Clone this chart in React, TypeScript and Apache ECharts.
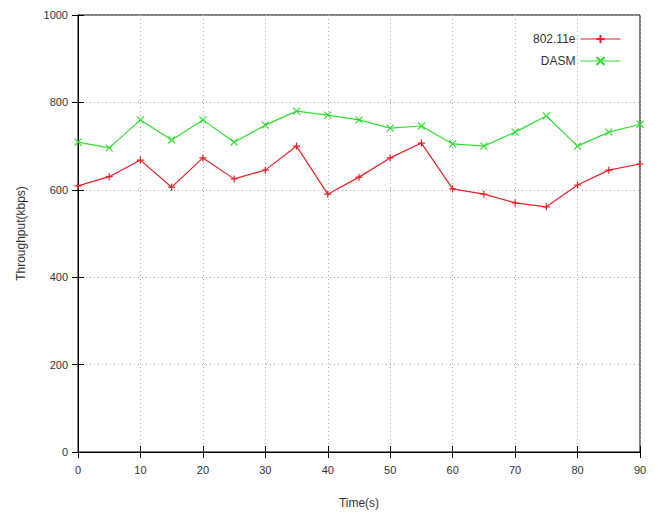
import React, { useEffect, useRef } from "react";
import * as echarts from "echarts";

const times = [0, 5, 10, 15, 20, 25, 30, 35, 40, 45, 50, 55, 60, 65, 70, 75, 80, 85, 90];
const ieee80211e = [609, 630, 668, 606, 673, 625, 645, 700, 590, 629, 673, 707, 602, 590, 570, 561, 611, 645, 659];
const dasm = [709, 696, 760, 714, 760, 709, 748, 780, 771, 760, 741, 746, 705, 700, 732, 769, 700, 732, 750];
const xTicks = [0, 10, 20, 30, 40, 50, 60, 70, 80, 90];
const yTicks = [0, 200, 400, 600, 800, 1000];

const PLUS = "path://M0,5L10,5M5,0L5,10";
const CROSS = "path://M0,0L10,10M10,0L0,10";

export default function App() {
  const ref = useRef<HTMLDivElement>(null);
  useEffect(() => {
    if (!ref.current) return;
    const chart = echarts.init(ref.current, null, { renderer: "svg" });
    const font = "'Liberation Sans', Arial, sans-serif";
    const labelColor = "#333";
    chart.setOption({
      animation: false,
      textStyle: { fontFamily: font },
      grid: { left: 70, right: 10, top: 7, bottom: 65, show: true, borderColor: "#000", borderWidth: 1, backgroundColor: "transparent", outerBoundsMode: "none", containLabel: false },
      legend: {
        orient: "vertical",
        right: 24,
        top: 20,
        align: "right",
        itemWidth: 40,
        itemHeight: 10,
        itemGap: 10,
        lineStyle: { width: 1 },
        textStyle: { fontSize: 12, color: labelColor, fontFamily: font },
        data: ["802.11e", "DASM"],
      },
      xAxis: [
        {
          type: "value",
          min: 0,
          max: 90,
          interval: 10,
          name: "Time(s)",
          nameLocation: "middle",
          nameGap: 45,
          nameTextStyle: { fontSize: 12, color: labelColor },
          axisLine: { show: true, lineStyle: { color: "#000" } },
          axisTick: { show: true, inside: true, length: 6, lineStyle: { color: "#000" } },
          axisLabel: { fontSize: 11, color: labelColor, margin: 12, formatter: (v: number) => (xTicks.includes(v) ? String(v) : "") },
          splitLine: { show: true, lineStyle: { color: "#aaa", type: [1, 3] } },
        },
        {
          type: "value",
          position: "top",
          min: 0,
          max: 90,
          interval: 10,
          axisLine: { show: true, lineStyle: { color: "#000" } },
          axisTick: { show: true, inside: true, length: 6, lineStyle: { color: "#000" } },
          axisLabel: { show: false },
          splitLine: { show: false },
        },
      ],
      yAxis: [
        {
          type: "value",
          min: 0,
          max: 1000,
          interval: 200,
          name: "Throughput(kbps)",
          nameLocation: "middle",
          nameGap: 51,
          nameTextStyle: { fontSize: 12, color: labelColor },
          axisLine: { show: true, lineStyle: { color: "#000" } },
          axisTick: { show: true, inside: true, length: 6, lineStyle: { color: "#000" } },
          axisLabel: { fontSize: 11, color: labelColor, margin: 10, formatter: (v: number) => (yTicks.includes(v) ? String(v) : "") },
          splitLine: { show: true, lineStyle: { color: "#aaa", type: [1, 3] } },
        },
        {
          type: "value",
          position: "right",
          min: 0,
          max: 1000,
          interval: 200,
          axisLine: { show: true, lineStyle: { color: "#000" } },
          axisTick: { show: true, inside: true, length: 6, lineStyle: { color: "#000" } },
          axisLabel: { show: false },
          splitLine: { show: false },
        },
      ],
      series: [
        {
          name: "802.11e",
          type: "line",
          data: times.map((t, i) => [t, ieee80211e[i]]),
          symbol: PLUS,
          symbolSize: 7,
          lineStyle: { color: "#e8202a", width: 1.2 },
          itemStyle: { color: "#e8202a", borderColor: "#e8202a", borderWidth: 1.2 },
        },
        {
          name: "DASM",
          type: "line",
          data: times.map((t, i) => [t, dasm[i]]),
          symbol: CROSS,
          symbolSize: 7,
          lineStyle: { color: "#33dd33", width: 1.2 },
          itemStyle: { color: "#33dd33", borderColor: "#33dd33", borderWidth: 1.2 },
        },
      ],
    });
    return () => chart.dispose();
  }, []);
  return <div ref={ref} style={{ width: 642, height: 509 }} />;
}
